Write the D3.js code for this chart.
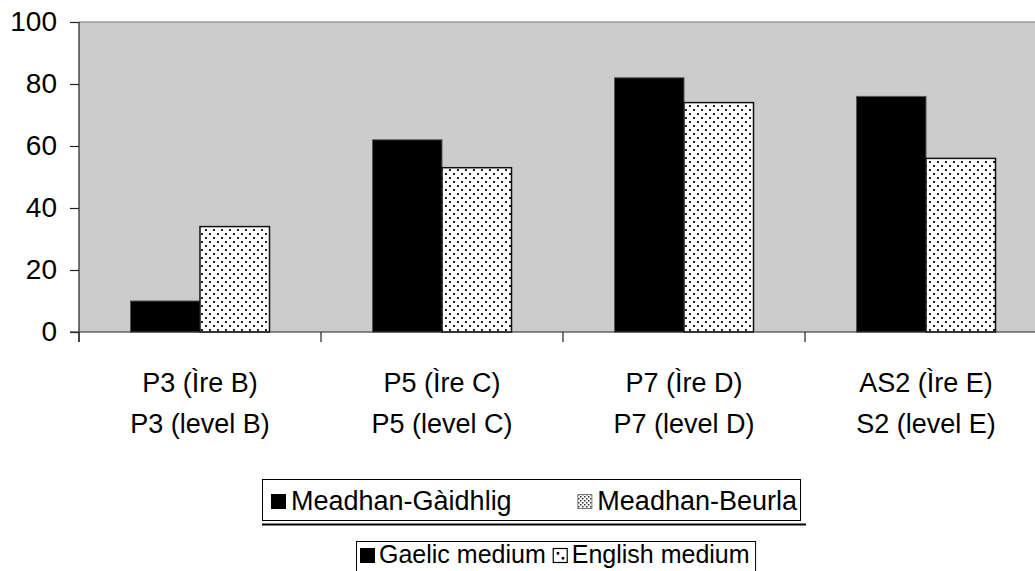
<!DOCTYPE html>
<html>
<head>
<meta charset="utf-8">
<script src="https://cdn.jsdelivr.net/npm/d3@7/dist/d3.min.js"></script>
<style>
  html, body { margin: 0; padding: 0; background: #fff; }
  svg { display: block; font-family: "Liberation Sans", Arial, sans-serif; }
</style>
</head>
<body>
<svg id="chart" width="1035" height="571"></svg>
<script>
// ---- data ----
const categoriesGd = ["P3 (Ìre B)", "P5 (Ìre C)", "P7 (Ìre D)", "AS2 (Ìre E)"];
const categoriesEn = ["P3 (level B)", "P5 (level C)", "P7 (level D)", "S2 (level E)"];
const seriesNames = ["gaelic", "english"];
const gaelicMedium = [10, 62, 82, 76];
const englishMedium = [34, 53, 74, 56];
const yTicks = [0, 20, 40, 60, 80, 100];
const legendGd = ["Meadhan-Gàidhlig", "Meadhan-Beurla"];
const legendEn = ["Gaelic medium", "English medium"];

(function () {
const svg = d3.select("#chart");
const defs = svg.append("defs");
const pat = defs.append("pattern").attr("id", "dots")
  .attr("patternUnits", "userSpaceOnUse").attr("width", 8).attr("height", 8);
pat.append("rect").attr("width", 8).attr("height", 8).attr("fill", "#fff");
pat.append("rect").attr("x", 1).attr("y", 1).attr("width", 2).attr("height", 2).attr("fill", "#222");
pat.append("rect").attr("x", 5).attr("y", 5).attr("width", 2).attr("height", 2).attr("fill", "#222");
const pat2 = defs.append("pattern").attr("id", "dotsfine")
  .attr("patternUnits", "userSpaceOnUse").attr("width", 4).attr("height", 4);
pat2.append("rect").attr("width", 4).attr("height", 4).attr("fill", "#fff");
pat2.append("rect").attr("x", 0).attr("y", 0).attr("width", 1.5).attr("height", 1.5).attr("fill", "#333");
pat2.append("rect").attr("x", 2).attr("y", 2).attr("width", 1.5).attr("height", 1.5).attr("fill", "#333");

const pLeft = 79, pTop = 22, pBottom = 332, bandW = 242;
const pRight = pLeft + bandW * categoriesGd.length;

const x = d3.scaleBand().domain(categoriesGd).range([pLeft, pRight]).padding(0);
const x1 = d3.scaleBand().domain(seriesNames).range([51.5, 190.5]).padding(0);
const y = d3.scaleLinear().domain([0, 100]).range([pBottom, pTop]);

// plot background
svg.append("rect").attr("x", pLeft).attr("y", pTop)
  .attr("width", pRight - pLeft).attr("height", pBottom - pTop).attr("fill", "#cccccc");
svg.append("line").attr("x1", pLeft).attr("x2", pRight).attr("y1", pTop).attr("y2", pTop)
  .attr("stroke", "#9a9a9a").attr("stroke-width", 1.5);

// bars
const rows = categoriesGd.map((c, i) => ({ c, vals: [gaelicMedium[i], englishMedium[i]] }));
const g = svg.append("g");
rows.forEach(r => {
  r.vals.forEach((v, j) => {
    const s = seriesNames[j];
    g.append("rect")
      .attr("x", x(r.c) + x1(s))
      .attr("y", y(v))
      .attr("width", x1.bandwidth())
      .attr("height", y(0) - y(v))
      .attr("fill", j === 0 ? "#000" : "url(#dots)")
      .attr("stroke", j === 0 ? "#555" : "#111")
      .attr("stroke-width", j === 0 ? 1 : 1.5);
  });
});

// y axis
const yAxis = d3.axisLeft(y).tickValues(yTicks).tickSize(9).tickPadding(13).tickFormat(d3.format("d"));
const ya = svg.append("g").attr("transform", `translate(${pLeft},0)`).call(yAxis);
ya.select(".domain").remove();
ya.selectAll(".tick line").attr("stroke", "#222").attr("stroke-width", 1.2);
ya.selectAll(".tick text").attr("font-size", 28).attr("fill", "#000")
  .attr("font-family", "Liberation Sans, Arial, sans-serif");
svg.append("line").attr("x1", pLeft).attr("x2", pLeft).attr("y1", pTop).attr("y2", pBottom + 10)
  .attr("stroke", "#222").attr("stroke-width", 1.2);

// x axis
svg.append("line").attr("x1", pLeft - 9).attr("x2", pRight).attr("y1", pBottom).attr("y2", pBottom)
  .attr("stroke", "#222").attr("stroke-width", 1.2);
const bounds = categoriesGd.map(c => x(c)).concat([pRight]);
svg.selectAll(".xt").data(bounds).enter().append("line")
  .attr("x1", d => d).attr("x2", d => d).attr("y1", pBottom).attr("y2", pBottom + 10)
  .attr("stroke", "#222").attr("stroke-width", 1.2);
const labels = svg.append("g").attr("font-size", 27).attr("text-anchor", "middle").attr("fill", "#000");
categoriesGd.forEach((c, i) => {
  const cx = x(c) + x.bandwidth() / 2;
  labels.append("text").attr("x", cx).attr("y", 392).text(c);
  labels.append("text").attr("x", cx).attr("y", 433).text(categoriesEn[i]);
});

// legend 1
const l1 = svg.append("g");
l1.append("rect").attr("x", 262.5).attr("y", 479.5).attr("width", 538).attr("height", 41)
  .attr("fill", "#fff").attr("stroke", "#000").attr("stroke-width", 1);
l1.append("line").attr("x1", 262).attr("x2", 806).attr("y1", 524.5).attr("y2", 524.5)
  .attr("stroke", "#000").attr("stroke-width", 2);
l1.append("rect").attr("x", 271).attr("y", 494).attr("width", 15).attr("height", 15).attr("fill", "#000");
l1.append("text").attr("x", 291).attr("y", 510).attr("font-size", 27).text(legendGd[0]);
const t1b = l1.append("text").attr("x", 797).attr("y", 510).attr("font-size", 27)
  .attr("text-anchor", "end").text(legendGd[1]);
const w1b = t1b.node().getComputedTextLength();
l1.append("rect").attr("x", 797 - w1b - 19.5).attr("y", 494.5).attr("width", 14).attr("height", 14)
  .attr("fill", "url(#dotsfine)").attr("stroke", "#777").attr("stroke-width", 1);

// legend 2
const l2 = svg.append("g");
const fs2 = 25;
const t2a = l2.append("text").attr("x", 379).attr("y", 563).attr("font-size", fs2).text(legendEn[0]);
const w2a = t2a.node().getComputedTextLength();
const sw2x = 379 + w2a + 7;
const t2b = l2.append("text").attr("x", sw2x + 19).attr("y", 563).attr("font-size", fs2).text(legendEn[1]);
const w2b = t2b.node().getComputedTextLength();
const box2R = sw2x + 19 + w2b + 6;
l2.insert("rect", ":first-child").attr("x", 356.5).attr("y", 541.5).attr("width", box2R - 356.5).attr("height", 40)
  .attr("fill", "#fff").attr("stroke", "#000").attr("stroke-width", 1);
l2.append("rect").attr("x", 360).attr("y", 548).attr("width", 15).attr("height", 15).attr("fill", "#000");
l2.append("rect").attr("x", sw2x + 0.5).attr("y", 548.5).attr("width", 14).attr("height", 14)
  .attr("fill", "#fff").attr("stroke", "#000").attr("stroke-width", 1.2);
l2.append("rect").attr("x", sw2x + 4).attr("y", 552).attr("width", 2.5).attr("height", 2.5).attr("fill", "#000");
l2.append("rect").attr("x", sw2x + 9).attr("y", 557).attr("width", 2.5).attr("height", 2.5).attr("fill", "#000");
})();
</script>
</body>
</html>
